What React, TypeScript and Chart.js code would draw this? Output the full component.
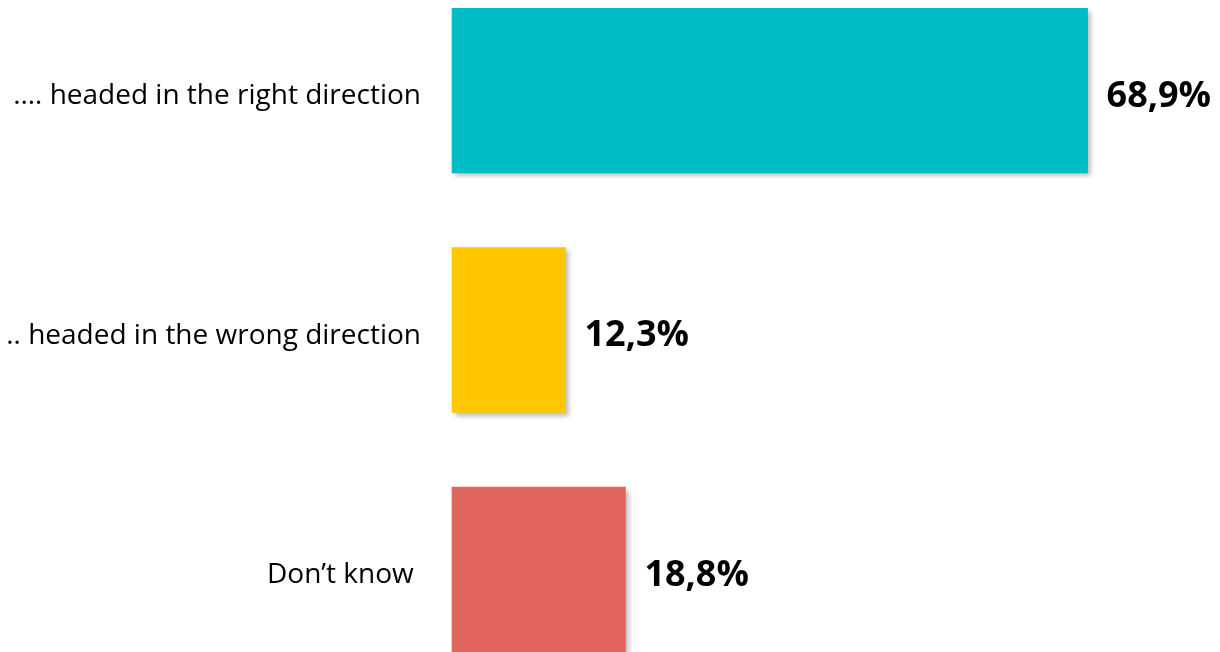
import React, { useEffect, useRef } from "react";
import { Chart, registerables } from "chart.js";

Chart.register(...registerables);

const categories = [".… headed in the right direction", "… headed in the wrong direction", "Don’t know "];
const values = [68.9, 12.3, 18.8];
const barColors = ["#00BCC5", "#FFC800", "#E26560"];
const valueLabels = ["68,9%", "12,3%", "18,8%"];

const shadowPlugin = {
  id: "barShadow",
  beforeDatasetsDraw(chart: any) {
    const ctx = chart.ctx;
    ctx.save();
    ctx.shadowColor = "rgba(0,0,0,0.28)";
    ctx.shadowBlur = 5;
    ctx.shadowOffsetX = 3;
    ctx.shadowOffsetY = 3;
  },
  afterDatasetsDraw(chart: any) {
    chart.ctx.restore();
  },
};

const valueLabelPlugin = {
  id: "valueLabels",
  afterDatasetsDraw(chart: any) {
    const ctx = chart.ctx;
    const meta = chart.getDatasetMeta(0);
    ctx.save();
    ctx.shadowColor = "transparent";
    ctx.fillStyle = "#000000";
    ctx.font = "bold 36px 'Open Sans', sans-serif";
    ctx.textAlign = "left";
    ctx.textBaseline = "middle";
    meta.data.forEach((bar: any, i: number) => {
      ctx.fillText(valueLabels[i], bar.x + 19, bar.y + 6);
    });
    ctx.restore();
  },
};

export default function App() {
  const ref = useRef<HTMLCanvasElement | null>(null);
  useEffect(() => {
    if (!ref.current) return;
    const chart = new Chart(ref.current, {
      type: "bar",
      data: {
        labels: categories,
        datasets: [
          {
            data: values,
            backgroundColor: barColors,
            borderWidth: 0,
            barThickness: 165,
            clip: false as any,
          },
        ],
      },
      options: {
        indexAxis: "y",
        animation: false,
        responsive: true,
        maintainAspectRatio: false,
        layout: { padding: { top: 82.5, bottom: 82.5, left: 0, right: 22 } },
        plugins: { legend: { display: false }, tooltip: { enabled: false } },
        scales: {
          x: { display: false, min: 0, max: 80 },
          y: {
            offset: false,
            grid: { display: false, drawTicks: false },
            border: { display: false },
            afterFit: (scale: any) => {
              scale.width = 444;
            },
            ticks: {
              padding: 31,
              labelOffset: 6,
              color: "#000000",
              font: { family: "'Open Sans', sans-serif", size: 28 },
            },
          },
        },
      },
      plugins: [shadowPlugin, valueLabelPlugin],
    });
    return () => chart.destroy();
  }, []);
  return (
    <div style={{ width: "100%", height: 644, position: "relative" }}>
      <canvas ref={ref} />
    </div>
  );
}
